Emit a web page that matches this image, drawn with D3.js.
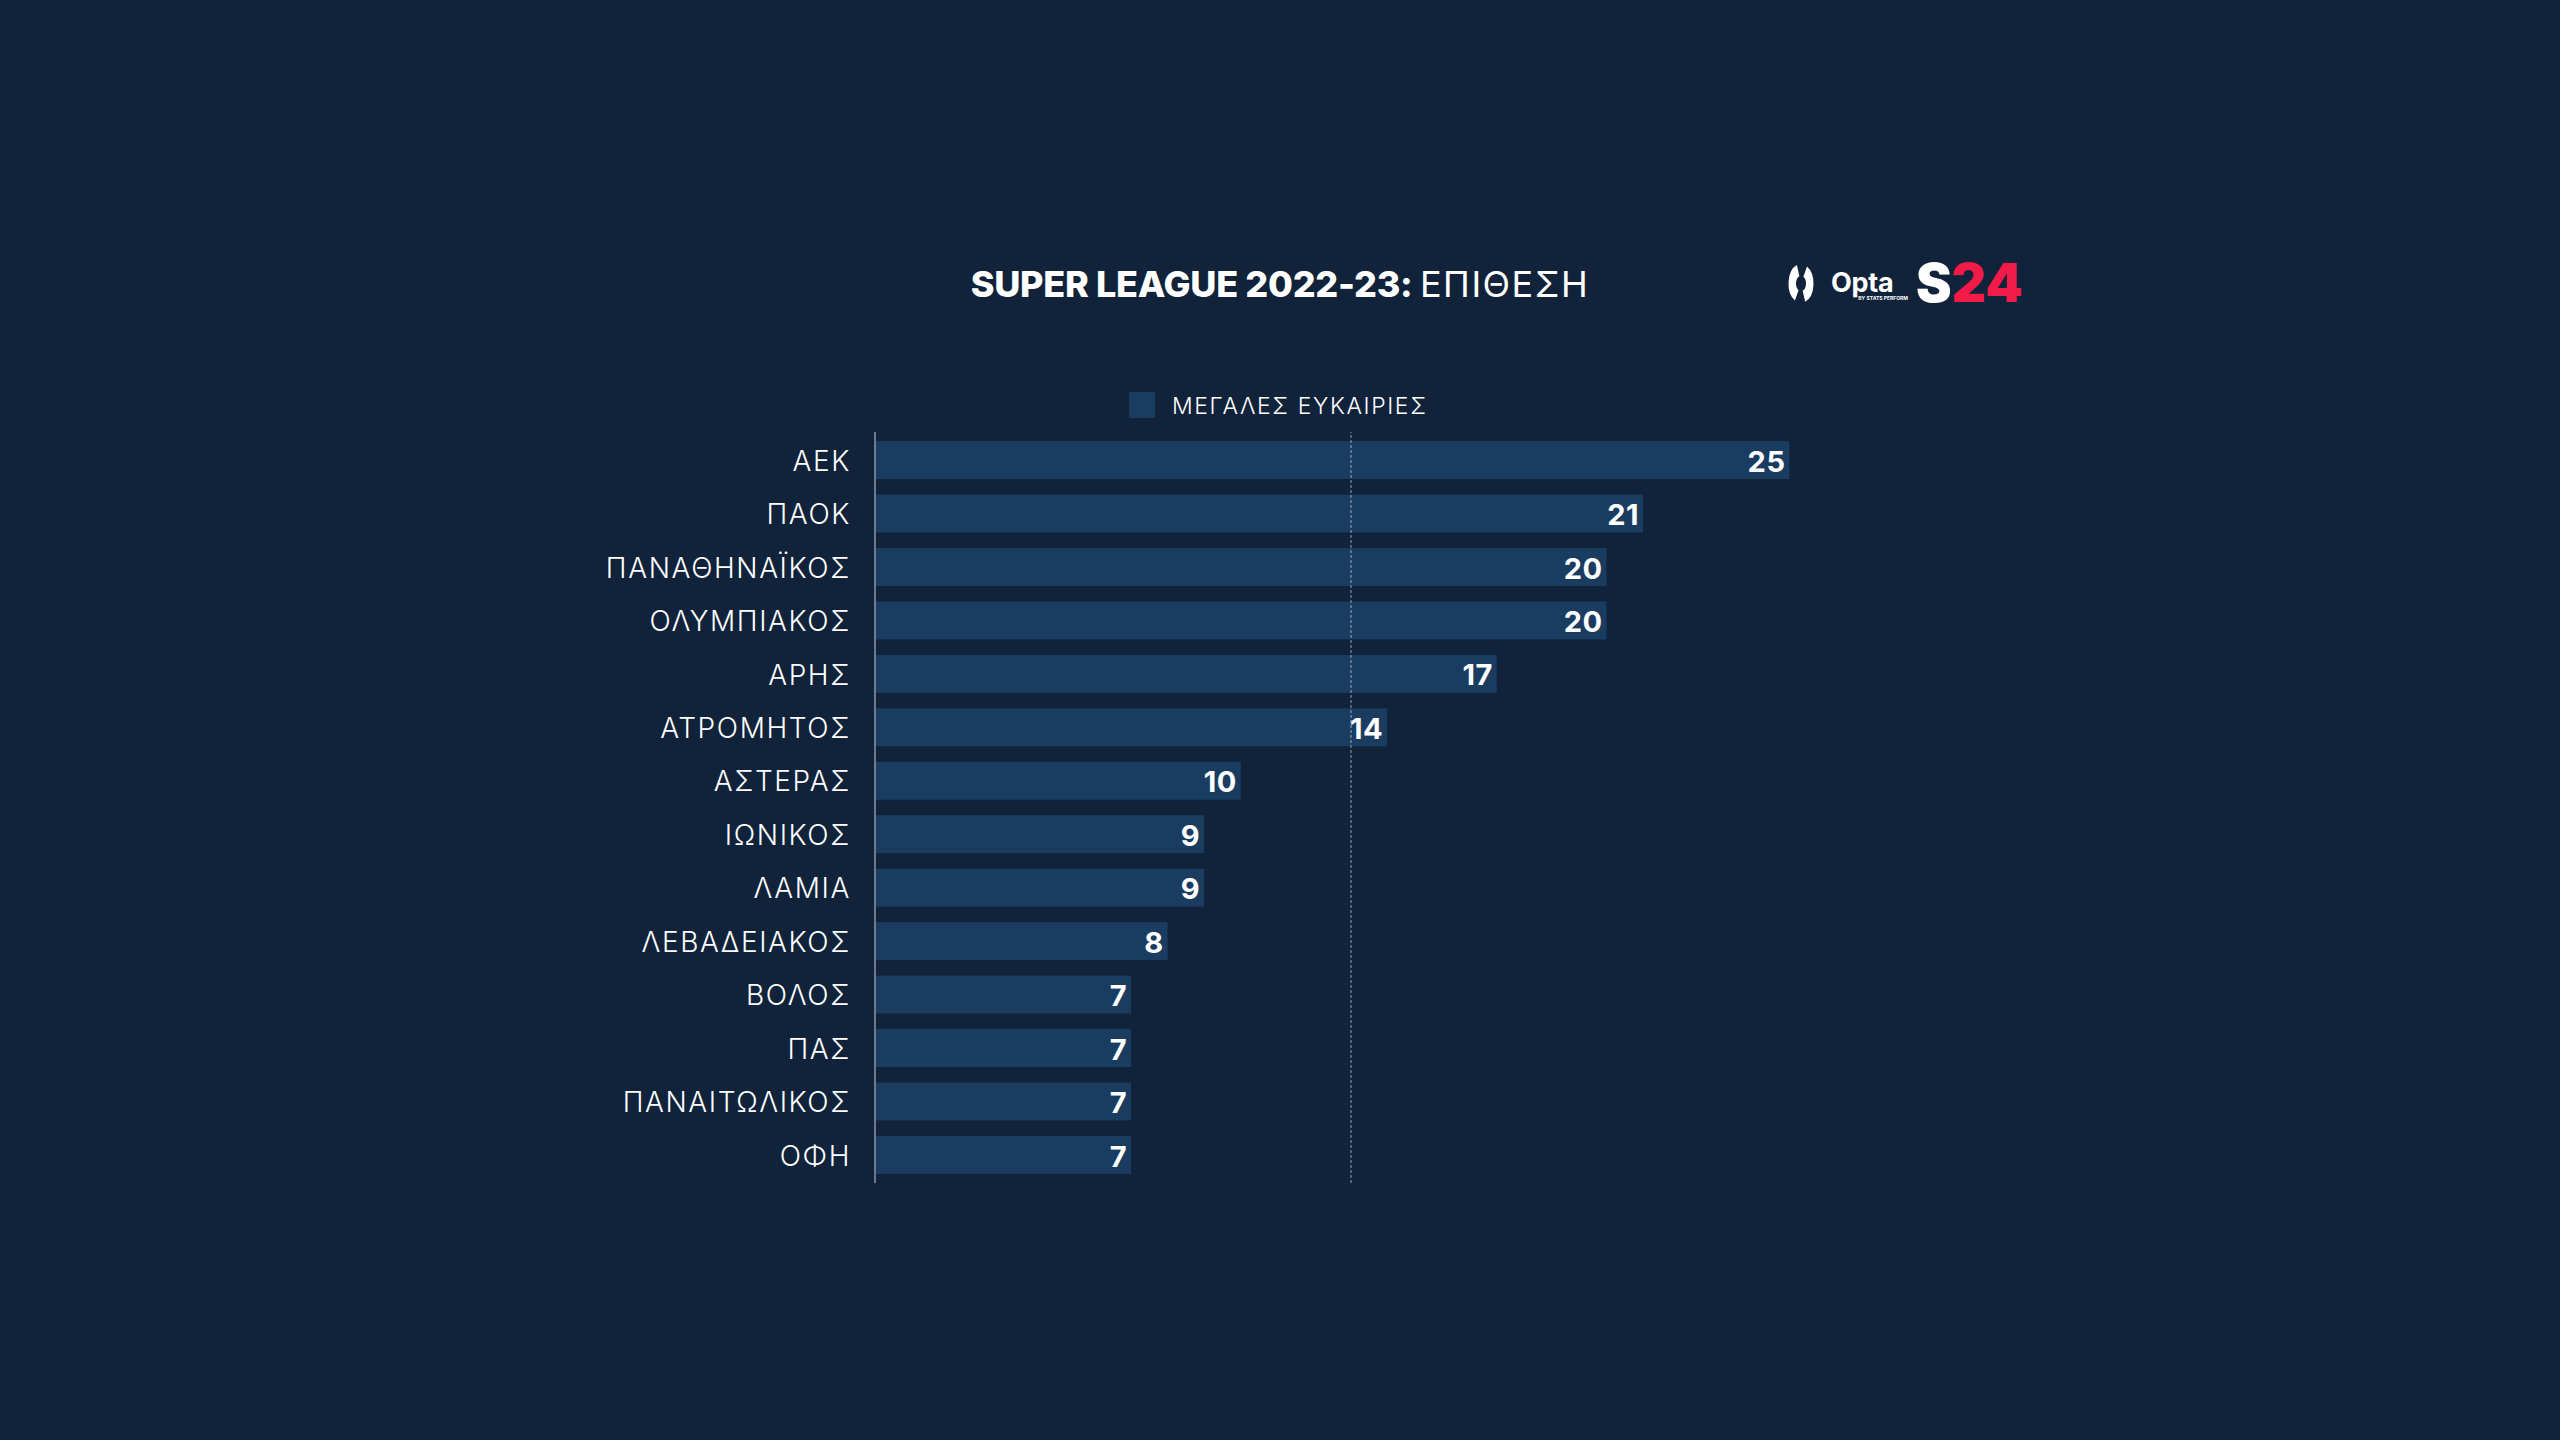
<!DOCTYPE html>
<html>
<head>
<meta charset="utf-8">
<script src="https://cdn.jsdelivr.net/npm/d3@7"></script>
<style>
  html, body { margin: 0; padding: 0; background: #10233a; }
  svg { display: block; }
</style>
</head>
<body>
<script>
// data
const teams = ["ΑΕΚ", "ΠΑΟΚ", "ΠΑΝΑΘΗΝΑΪΚΟΣ", "ΟΛΥΜΠΙΑΚΟΣ", "ΑΡΗΣ", "ΑΤΡΟΜΗΤΟΣ", "ΑΣΤΕΡΑΣ",
               "ΙΩΝΙΚΟΣ", "ΛΑΜΙΑ", "ΛΕΒΑΔΕΙΑΚΟΣ", "ΒΟΛΟΣ", "ΠΑΣ", "ΠΑΝΑΙΤΩΛΙΚΟΣ", "ΟΦΗ"];
const bigChances = [25, 21, 20, 20, 17, 14, 10, 9, 9, 8, 7, 7, 7, 7];
const gridTicks = [13];
const seriesName = "ΜΕΓΑΛΕΣ ΕΥΚΑΙΡΙΕΣ";

const width = 2560, height = 1440;
const bg = "#10233a", barColor = "#1a3c60";
const font = "Inter, 'Noto Sans', sans-serif";

const svg = d3.select("body").append("svg")
  .attr("width", width)
  .attr("height", height);

svg.append("rect").attr("width", width).attr("height", height).attr("fill", bg);

const x = d3.scaleLinear().domain([0, 26]).range([875, 1826]);
const y = d3.scaleBand().domain(teams).range([432, 1183])
  .paddingInner(0.29).paddingOuter(0.17);

// bars
svg.selectAll(".bar")
  .data(bigChances)
  .enter()
  .append("rect")
  .attr("class", "bar")
  .attr("x", x(0))
  .attr("y", (d, i) => y(teams[i]))
  .attr("width", d => x(d) - x(0))
  .attr("height", y.bandwidth())
  .attr("fill", barColor);

// dashed gridline
svg.append("g")
  .attr("transform", "translate(0,1183)")
  .call(d3.axisBottom(x).tickValues(gridTicks).tickSize(-(1183 - 432)).tickFormat(""))
  .call(g => g.select(".domain").remove())
  .call(g => g.selectAll(".tick line")
    .attr("stroke", "#c9d1dc")
    .attr("stroke-opacity", 0.6)
    .attr("stroke-width", 1.2)
    .attr("stroke-dasharray", "3,2"));

// category axis
svg.append("g")
  .attr("transform", `translate(${x(0)},0)`)
  .call(d3.axisLeft(y).tickSize(0).tickPadding(24))
  .call(g => g.select(".domain").remove())
  .call(g => g.selectAll(".tick text")
    .attr("fill", "#ffffff")
    .attr("font-family", font)
    .attr("font-weight", 300)
    .attr("font-size", 28)
    .attr("letter-spacing", 1.6)
    .attr("dy", "0.38em"));

svg.append("line")
  .attr("x1", x(0)).attr("x2", x(0))
  .attr("y1", 432).attr("y2", 1183)
  .attr("stroke", "#8d97a6")
  .attr("stroke-width", 1.5);

// value labels
svg.selectAll(".val")
  .data(bigChances)
  .enter()
  .append("text")
  .attr("class", "val")
  .attr("x", d => x(d) - 4)
  .attr("y", (d, i) => y(teams[i]) + y.bandwidth() / 2)
  .attr("dy", "0.4em")
  .attr("text-anchor", "end")
  .attr("fill", "#ffffff")
  .attr("font-family", font)
  .attr("font-weight", 700)
  .attr("font-size", 29)
  .attr("letter-spacing", 0.5)
  .text(d => d);

// legend
svg.append("rect")
  .attr("x", 1129).attr("y", 392)
  .attr("width", 26).attr("height", 26)
  .attr("fill", barColor);
svg.append("text")
  .attr("x", 1172).attr("y", 405)
  .attr("dy", "0.38em")
  .attr("fill", "#ffffff")
  .attr("font-family", font)
  .attr("font-weight", 300)
  .attr("font-size", 23)
  .attr("letter-spacing", 1.6)
  .text(seriesName);

// title
const title = svg.append("text")
  .attr("x", 1280).attr("y", 297)
  .attr("text-anchor", "middle")
  .attr("fill", "#ffffff")
  .attr("font-family", font)
  .attr("font-size", 36);
title.append("tspan").attr("font-weight", 800).attr("letter-spacing", -0.3).text("SUPER LEAGUE 2022-23: ");
title.append("tspan").attr("font-weight", 400).attr("letter-spacing", 1.5).text("ΕΠΙΘΕΣΗ");

// Opta logo: split ring + wordmark
const ring = d3.arc().innerRadius(5).outerRadius(12.5);
const opta = svg.append("g").attr("transform", "translate(1801,283.5) scale(1,1.56)");
[[0.5, 2.8], [3.65, 5.95]].forEach(([a0, a1]) => {
  opta.append("path")
    .attr("d", ring({ startAngle: a0, endAngle: a1 }))
    .attr("fill", "#ffffff");
});
svg.append("text")
  .attr("x", 1831).attr("y", 292)
  .attr("fill", "#ffffff")
  .attr("font-family", font)
  .attr("font-weight", 700)
  .attr("font-size", 27)
  .attr("letter-spacing", -0.3)
  .text("Opta");
svg.append("text")
  .attr("x", 1908).attr("y", 300)
  .attr("text-anchor", "end")
  .attr("fill", "#ffffff")
  .attr("font-family", font)
  .attr("font-weight", 700)
  .attr("font-size", 5)
  .text("BY STATS PERFORM");

// S24 logo
const s24 = svg.append("text")
  .attr("x", 1916).attr("y", 302)
  .attr("font-family", font)
  .attr("font-weight", 900)
  .attr("font-size", 53)
  .attr("textLength", 107)
  .attr("lengthAdjust", "spacingAndGlyphs");
s24.append("tspan").attr("fill", "#ffffff").text("S");
s24.append("tspan").attr("fill", "#f21a46").text("24");
</script>
</body>
</html>
